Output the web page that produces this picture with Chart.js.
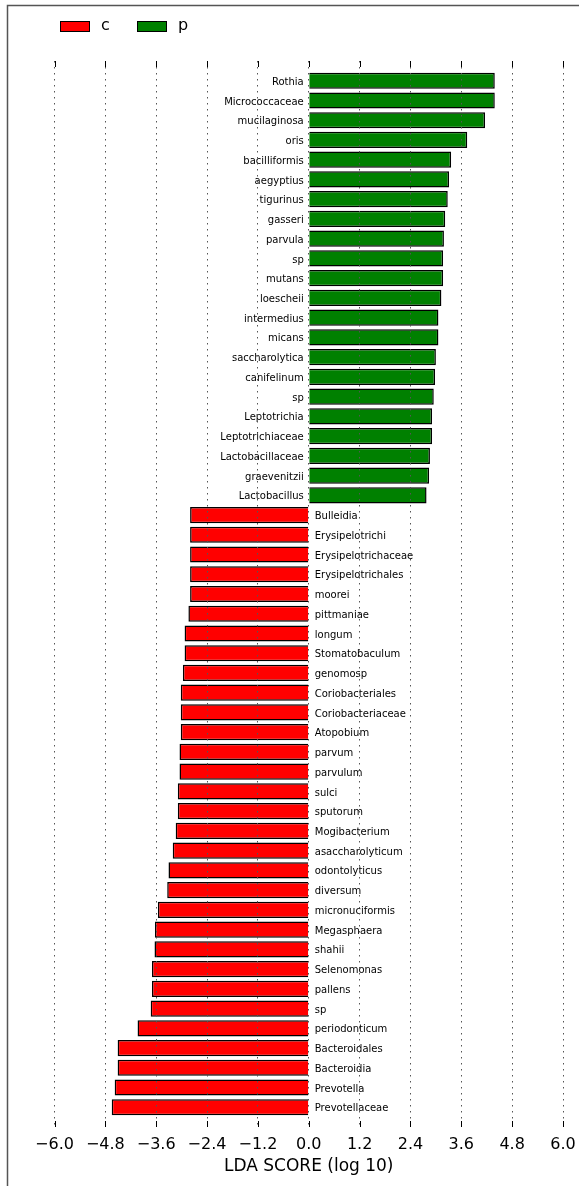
<!DOCTYPE html>
<html>
<head>
<meta charset="utf-8">
<script src="https://cdn.jsdelivr.net/npm/chart.js@4.4.1/dist/chart.umd.min.js"></script>
<style>
  html, body { margin: 0; padding: 0; background: #fff; }
  #wrap { width: 579px; height: 1186px; position: relative; }
</style>
</head>
<body>
<div id="wrap"><canvas id="ldaChart"></canvas></div>
<script>
// ------------------ DONNÉES ------------------
const featureNames = [
    'Rothia', 'Micrococcaceae', 'mucilaginosa', 'oris', 'bacilliformis', 'aegyptius',
    'tigurinus', 'gasseri', 'parvula', 'sp', 'mutans', 'loescheii', 'intermedius',
    'micans', 'saccharolytica', 'canifelinum', 'sp', 'Leptotrichia', 'Leptotrichiaceae',
    'Lactobacillaceae', 'graevenitzii', 'Lactobacillus',
    'Bulleidia', 'Erysipelotrichi', 'Erysipelotrichaceae', 'Erysipelotrichales', 'moorei',
    'pittmaniae', 'longum', 'Stomatobaculum', 'genomosp', 'Coriobacteriales',
    'Coriobacteriaceae', 'Atopobium', 'parvum', 'parvulum', 'sulci', 'sputorum',
    'Mogibacterium', 'asaccharolyticum', 'odontolyticus', 'diversum', 'micronuciformis',
    'Megasphaera', 'shahii', 'Selenomonas', 'pallens', 'sp', 'periodonticum',
    'Bacteroidales', 'Bacteroidia', 'Prevotella', 'Prevotellaceae'
];

// score LDA signé : positif = p, négatif = c
const ldaScores = [
    4.39, 4.39, 4.16, 3.74, 3.36, 3.31, 3.28, 3.22, 3.19, 3.17, 3.17, 3.13, 3.06,
    3.06, 3.00, 2.98, 2.95, 2.91, 2.91, 2.86, 2.84, 2.78,
    -2.80, -2.80, -2.80, -2.80, -2.80, -2.84, -2.93, -2.93, -2.97, -3.02,
    -3.02, -3.02, -3.05, -3.05, -3.09, -3.09, -3.14, -3.21, -3.31, -3.34, -3.56,
    -3.63, -3.64, -3.70, -3.70, -3.73, -4.04, -4.51, -4.51, -4.58, -4.65
];

const classLabels = ['c', 'p'];
const xTicks = [-6.0, -4.8, -3.6, -2.4, -1.2, 0.0, 1.2, 2.4, 3.6, 4.8, 6.0];
const axisTitle = 'LDA SCORE (log 10)';

// une ligne vide en haut et en bas pour la marge
const rowLabels = [''].concat(featureNames, ['']);
const valuesC = [null].concat(ldaScores.map(v => v < 0 ? v : null), [null]);
const valuesP = [null].concat(ldaScores.map(v => v > 0 ? v : null), [null]);

const FONT = "'DejaVu Sans', sans-serif";

// ------------------ PLUGINS ------------------
// Noms des features posés sur la ligne zéro
const featureLabelPlugin = {
    id: 'featureLabels',
    afterDatasetsDraw(chart) {
        const ctx = chart.ctx;
        const xs = chart.scales.x, ys = chart.scales.y;
        const x0 = xs.getPixelForValue(0);
        ctx.save();
        ctx.font = '10px ' + FONT;
        ctx.fillStyle = '#000';
        ctx.textBaseline = 'middle';
        featureNames.forEach((name, i) => {
            const y = ys.getPixelForValue(i + 1);
            if (ldaScores[i] > 0) {
                ctx.textAlign = 'right';
                ctx.fillText(name, x0 - 5, y + 1.5);
            } else {
                ctx.textAlign = 'left';
                ctx.fillText(name, x0 + 6, y + 1.5);
            }
        });
        ctx.restore();
    }
};

// Petites graduations vers l'intérieur en haut et en bas + cadre de la figure
const frameTickPlugin = {
    id: 'frameTicks',
    afterDraw(chart) {
        const ctx = chart.ctx;
        const xs = chart.scales.x;
        const area = chart.chartArea;
        ctx.save();
        ctx.strokeStyle = '#000';
        ctx.lineWidth = 1;
        xs.ticks.forEach(t => {
            const x = Math.round(xs.getPixelForValue(t.value)) + 0.5;
            ctx.beginPath();
            ctx.moveTo(x, area.top);
            ctx.lineTo(x, area.top + 6);
            ctx.moveTo(x, area.bottom);
            ctx.lineTo(x, area.bottom - 6);
            ctx.stroke();
        });
        // cadre de la figure
        ctx.strokeStyle = '#555';
        ctx.lineWidth = 1.5;
        ctx.beginPath();
        ctx.moveTo(7.5, chart.height);
        ctx.lineTo(7.5, 5.5);
        ctx.lineTo(chart.width, 5.5);
        ctx.stroke();
        ctx.restore();
    }
};

// Légende dessinée à la main (position matplotlib)
const legendPlugin = {
    id: 'mplLegend',
    afterDraw(chart) {
        const ctx = chart.ctx;
        ctx.save();
        ctx.font = '16px ' + FONT;
        ctx.textBaseline = 'middle';
        ctx.textAlign = 'left';
        let x = 60;
        chart.data.datasets.forEach(ds => {
            ctx.fillStyle = ds.backgroundColor;
            ctx.fillRect(x, 21, 29, 10);
            ctx.strokeStyle = '#000';
            ctx.lineWidth = 1;
            ctx.strokeRect(x + 0.5, 21.5, 29, 10);
            ctx.fillStyle = '#000';
            ctx.fillText(ds.label, x + 41, 26);
            x += 77;
        });
        ctx.restore();
    }
};

// ------------------ GRAPHIQUE ------------------
const ctx = document.getElementById('ldaChart').getContext('2d');
new Chart(ctx, {
    type: 'bar',
    data: {
        labels: rowLabels,
        datasets: [
            {
                label: classLabels[0],
                data: valuesC,
                backgroundColor: '#ff0000',
                borderColor: '#000',
                borderWidth: 1.5,
                grouped: false,
                barPercentage: 0.82,
                categoryPercentage: 1
            },
            {
                label: classLabels[1],
                data: valuesP,
                backgroundColor: '#008000',
                borderColor: '#000',
                borderWidth: 1.5,
                grouped: false,
                barPercentage: 0.82,
                categoryPercentage: 1
            }
        ]
    },
    options: {
        indexAxis: 'y',
        responsive: true,
        maintainAspectRatio: false,
        animation: false,
        layout: {
            padding: { left: 54.5, right: 16, top: 61, bottom: 0 }
        },
        scales: {
            x: {
                type: 'linear',
                min: -6,
                max: 6,
                afterBuildTicks: s => { s.ticks = xTicks.map(v => ({ value: v })); },
                afterFit: s => {
                    s.height = 59;
                    s.paddingLeft = 0;
                    s.paddingRight = 0;
                },
                grid: {
                    color: '#555',
                    lineWidth: 1,
                    drawTicks: false,
                    z: 1
                },
                border: { display: false, dash: [1.5, 4.5] },
                ticks: {
                    color: '#000',
                    padding: 8,
                    maxRotation: 0,
                    autoSkip: false,
                    font: { family: FONT, size: 16 },
                    callback: v => v.toFixed(1).replace('-', '\u2212')
                },
                title: {
                    display: true,
                    text: axisTitle,
                    color: '#000',
                    font: { family: FONT, size: 17 },
                    padding: { top: 0, bottom: 9 }
                }
            },
            y: {
                type: 'category',
                display: false,
                offset: false
            }
        },
        plugins: {
            legend: { display: false },
            tooltip: { enabled: false }
        }
    },
    plugins: [featureLabelPlugin, frameTickPlugin, legendPlugin]
});
</script>
</body>
</html>
